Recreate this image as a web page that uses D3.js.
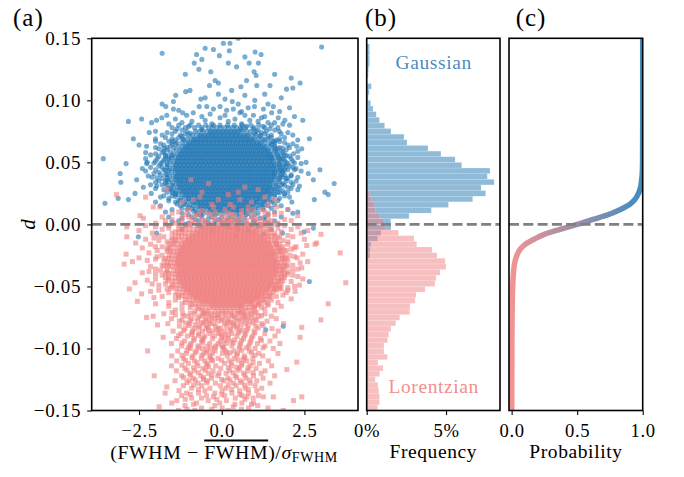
<!DOCTYPE html>
<html><head><meta charset="utf-8">
<script src="https://cdn.jsdelivr.net/npm/d3@7"></script>
<style>body{margin:0;background:#fff}svg{display:block}</style>
</head><body><svg id="chart" width="684" height="477"></svg>
<script>
// ---------- DATA ----------
// scatter rows: [d (x1000), x values (x100) ...]
const gaussRows = [
[150,50],[146,5,25],[143,302],[142,-50],[141,-25],[140,23],[139,101],[138,-180],[137,-76,119],[136,-7],[135,70],[133,-60],
[130,-83,20,83,111],[127,45],[125,-69],[123,-33,98],[121,-110,160],[120,104],[118,210],[116,-20,75],[114,-10,237],
[112,-37,106,146],[111,58],[110,215],[109,196],[108,-96,30],[107,-109],[105,-10,130],[104,-139,70],[102,-50,180],
[101,-63,10],[100,100],[99,-146,32],[97,-180,50,140],[95,-169,-68,-45,-5,99,156],[94,80,205],[93,-146,-25,35,126],
[92,-130,15],[91,60,175],[90,-118,-86,55,151],[89,-35],[88,-166,-106,10,70,96],[87,-60,130,220],[86,-181,-5,120,171],
[85,-242,-140,40],[84,-197,-50,85,191,245],[83,-282,-90,20,110],[82,-212,-120,140,160],[81,-160,-30,60,185],
[80,-130,-95,-70,-48,-25,-5,18,38,62,88,112,150,205],
[78,-150,-110,-82,-60,-40,-28,-15,-3,9,21,33,45,57,72,98,130,170],
[75,-200,-140,-105,-80,-68,-56,-44,-32,-20,-8,4,16,28,40,52,64,76,88,104,135,174],
[74,-219,-165,120,200],
[72,-180,-125,-100,-88,-76,-64,-52,-40,-28,-16,-4,8,20,32,44,56,68,80,92,104,118,150,215],
[69,-267,-200,-150,-118,-104,-92,-80,-68,-56,-44,-32,-20,-8,4,16,28,40,52,64,76,88,100,112,124,140,175,265],
[67,-200,-160,160],
[66,-135,-120,-108,-96,-84,-72,-60,-48,-36,-24,-12,0,12,24,36,48,60,72,84,96,108,120,132,146,190],
[64,-250,-175,200],
[63,-227,-155,-130,-118,-106,-94,-82,-70,-58,-46,-34,-22,-10,2,14,26,38,50,62,74,86,98,110,122,134,146,160,227],
[61,-190,170,242],
[60,-165,-138,-126,-114,-102,-90,-78,-66,-54,-42,-30,-18,-6,6,18,30,42,54,66,78,90,102,114,126,138,150,162,195],
[58,-230,-180,185],
[57,-200,-146,-133,-121,-109,-97,-85,-73,-61,-49,-37,-25,-13,-1,11,23,35,47,59,71,83,95,107,119,131,143,155,168,217],
[55,-190,-160,180,205],
[54,-152,-140,-128,-116,-104,-92,-80,-68,-56,-44,-32,-20,-8,4,16,28,40,52,64,76,88,100,112,124,136,148,160,172,230],
[53,-358,-230],[52,-175,190],
[51,-200,-156,-144,-132,-120,-108,-96,-84,-72,-60,-48,-36,-24,-12,0,12,24,36,48,60,72,84,96,108,120,132,144,156,168,180,215],
[49,-289,-227,-185,200,240],
[48,-165,-150,-138,-126,-114,-102,-90,-78,-66,-54,-42,-30,-18,-6,6,18,30,42,54,66,78,90,102,114,126,138,150,162,174,190],
[46,-215,-180,215],
[45,-240,-158,-146,-134,-122,-110,-98,-86,-74,-62,-50,-38,-26,-14,-2,10,22,34,46,58,70,82,94,106,118,130,142,154,166,178,225],
[44,297,200],
[42,-190,-152,-140,-128,-116,-104,-92,-80,-68,-56,-44,-32,-20,-8,4,16,28,40,52,64,76,88,100,112,124,136,148,160,172,185],
[41,-307,-205,262],
[39,-222,-158,-146,-134,-122,-110,-98,-86,-74,-62,-50,-38,-26,-14,-2,10,22,34,46,58,70,82,94,106,118,130,142,154,166,178,210],
[37,-180,195],
[36,-257,-165,-152,-140,-128,-116,-104,-92,-80,-68,-56,-44,-32,-20,-8,4,16,28,40,52,64,76,88,100,112,124,136,148,160,172,277],
[35,225],[34,-305,-200,210],
[33,-170,-148,-136,-124,-112,-100,-88,-76,-64,-52,-40,-28,-16,-4,8,20,32,44,56,68,80,92,104,116,128,140,152,164,185,340],
[31,-196,235],
[30,-237,-145,-133,-121,-109,-97,-85,-73,-61,-49,-37,-25,-13,-1,11,23,35,47,59,71,83,95,107,119,131,143,155,170,200],
[28,-175,230],
[27,-150,-138,-126,-114,-102,-90,-78,-66,-54,-42,-30,-18,-6,6,18,30,42,54,66,78,90,102,114,126,138,150,162,185],
[26,312],[25,-262,-213,190],
[24,-140,-130,-118,-106,-94,-82,-70,-58,-46,-34,-22,-10,2,14,26,38,50,62,74,86,98,110,122,134,146,160,322],
[22,-185,205],
[21,-313,-160,-124,-112,-100,-88,-76,-64,-52,-40,-28,-16,-4,8,20,32,44,56,68,80,92,104,116,128,140,175],
[20,-282,280],
[18,-200,-140,-112,-100,-88,-76,-64,-52,-40,-28,-16,-4,8,20,32,44,56,68,80,92,104,116,128,150,212],
[17,-353],
[15,-185,-125,-98,-86,-74,-62,-50,-38,-26,-14,-2,10,22,34,46,58,70,82,94,106,118,140,180],
[12,-150,-105,-80,-68,-56,-44,-32,-20,-8,4,16,28,40,52,64,76,88,100,125,200],
[10,-170,160,230],
[9,-120,-75,-55,-40,-25,-10,5,20,35,50,65,80,110,215],
[6,-160,-90,-60,-30,0,30,55,90,130,180],
[3,-130,-70,-20,15,50,100,160],[1,-100,-40,30,75,140],[-2,-60,20,110],[-3,277],[-5,-30,80],[-6,249],
[-7,-197,184],[-8,126],[-9,43],[-10,-252],[-46,265],[-82,186],[-85,133]
];
const gaussInnerRows = [
[74.5,-35,-23,-11,1,13,25,37,49],
[71.5,-66,-54,-42,-30,-18,-6,6,18,30,42,54,66,78],
[68.5,-85,-73,-61,-49,-37,-25,-13,-1,11,23,35,47,59,71,83,95],
[65.5,-100,-88,-76,-64,-52,-40,-28,-16,-4,8,20,32,44,56,68,80,92,104,116],
[62.5,-111,-99,-87,-75,-63,-51,-39,-27,-15,-3,9,21,33,45,57,69,81,93,105,117,129],
[59.5,-120,-108,-96,-84,-72,-60,-48,-36,-24,-12,0,12,24,36,48,60,72,84,96,108,120,132,140],
[56.5,-127,-115,-103,-91,-79,-67,-55,-43,-31,-19,-7,5,17,29,41,53,65,77,89,101,113,125,137,147],
[53.5,-132,-120,-108,-96,-84,-72,-60,-48,-36,-24,-12,0,12,24,36,48,60,72,84,96,108,120,132,144,152],
[50.5,-136,-124,-112,-100,-88,-76,-64,-52,-40,-28,-16,-4,8,20,32,44,56,68,80,92,104,116,128,140,152],
[47.5,-139,-127,-115,-103,-91,-79,-67,-55,-43,-31,-19,-7,5,17,29,41,53,65,77,89,101,113,125,137,149,159],
[44.5,-140,-128,-116,-104,-92,-80,-68,-56,-44,-32,-20,-8,4,16,28,40,52,64,76,88,100,112,124,136,148,160],
[41.5,-134,-122,-110,-98,-86,-74,-62,-50,-38,-26,-14,-2,10,22,34,46,58,70,82,94,106,118,130,142,154,160],
[38.5,-139,-127,-115,-103,-91,-79,-67,-55,-43,-31,-19,-7,5,17,29,41,53,65,77,89,101,113,125,137,149,159],
[35.5,-136,-124,-112,-100,-88,-76,-64,-52,-40,-28,-16,-4,8,20,32,44,56,68,80,92,104,116,128,140,152],
[32.5,-130,-118,-106,-94,-82,-70,-58,-46,-34,-22,-10,2,14,26,38,50,62,74,86,98,110,122,134,146],
[29.5,-127,-115,-103,-91,-79,-67,-55,-43,-31,-19,-7,5,17,29,41,53,65,77,89,101,113,125,137,147],
[26.5,-120,-108,-96,-84,-72,-60,-48,-36,-24,-12,0,12,24,36,48,60,72,84,96,108,120,132,140],
[23.5,-111,-99,-87,-75,-63,-51,-39,-27,-15,-3,9,21,33,45,57,69,81,93,105,117,129],
[20.5,-100,-88,-76,-64,-52,-40,-28,-16,-4,8,20,32,44,56,68,80,92,104,116],
[17.5,-85,-73,-61,-49,-37,-25,-13,-1,11,23,35,47,59,71,83,95,105],
[14.5,-66,-54,-42,-30,-18,-6,6,18,30,42,54,66,78,86],
[11.5,-35,-23,-11,1,13,25,37,49,55]
];
const gaussEdgeRows = [
[76,-120,110,160],[73,-150,-110,130,180],[70,-170,-130,150,190],[68,-140,165,230],[65,-185,-150,160,215],
[62,-200,-165,175,205],[59,-175,180,230],[56,-215,-170,190],[53,-195,-170,185,210],[50,-225,-180,195,255],
[47,-190,185,205],[44,-200,-175,190,220],[43,-230,240],[40,-185,-170,190,210],[38,-210,185,230],[35,-190,-170,195],
[32,-215,-180,180,215],[29,-200,-160,175,210],[26,-165,170,200],[23,-175,-150,160,190],[19,-160,-130,140,170],
[16,-110,130,160],[13,-120,-90,110,150],[8,-100,-75,75,100,140],[5,-120,-40,20,70,115],[4,-80,-10,40,130],
[2,-150,-50,0,60,95],[0,-110,-20,45,120,170],[-1,-70,10,90],[-4,-120,50,150],
[79,-100,75,125],[77,-135,95,145],[76.5,-60,60],[73.5,-95,100],[71,-120,115,140],[68.2,-115,130],[66.8,-150,155,175],
[64.5,-140,150],[61.5,-175,-145,160,185],[58.5,-155,165],[55.5,-170,-150,170,195],[52.5,-160,175],[49.5,-205,-165,175,220],
[46.5,-165,175,195],[43.5,-170,-160,175,185],[40.5,-165,180],[37.5,-195,-165,175,200],[34.5,-160,175],
[31.5,-165,-150,165,190],[28.5,-155,160],[25.5,-150,-140,150,175],[22.5,-140,145],[19.5,-125,130,155],
[16.5,-135,-115,120],[13.5,-100,95,125],[10.5,-85,-60,70,90],[7.5,-65,-20,45]
];
const lorentzRows = [
[36,-93],[33,-40],[30,70],[28,-166,110],[26,50,-60],[24,-318,20],[22,-230,-66,130],[20,-86,-10,55,160],[18,-120,90],
[16,-30,25,140],[14,-207,-187,-25,35,80,166],[12,-100,10,96,121,200],[11,-60,60],[10,-130,-20,80,130],[9,-150,-40,20,140,180],
[8,-110,-70,30,60,160],[7,-247,-80,0,40,100,230],[6,-180,-100,-30,10,90,140],[5,-237,-120,-20,60,120],[4,-150,-60,20,45,100,190],
[3,-170,-90,-50,5,30,75,150,210],[2,-120,-80,-10,25,110,140],[1,-200,-140,-60,-30,15,50,95,130,170],[0,-170,-95,-45,0,40,80,120,155],
[-1,-230,-160,-110,-74,-62,-50,-38,-26,-14,-2,10,22,34,46,58,70,82,94,106,140,190],
[-2,-287,-200,230],
[-4,-180,-130,-98,-86,-74,-62,-50,-38,-26,-14,-2,10,22,34,46,58,70,82,94,106,118,150,210],
[-5,-250,260],
[-7,-210,-150,-112,-100,-88,-76,-64,-52,-40,-28,-16,-4,8,20,32,44,56,68,80,92,104,116,128,160,240],
[-8,300],
[-10,-287,-175,-122,-110,-98,-86,-74,-62,-50,-38,-26,-14,-2,10,22,34,46,58,70,82,94,106,118,130,142,175,215],
[-12,-230,250],
[-13,-190,-140,-126,-114,-102,-90,-78,-66,-54,-42,-30,-18,-6,6,18,30,42,54,66,78,90,102,114,126,138,150,185],
[-15,287,-260],
[-16,-215,-150,-134,-122,-110,-98,-86,-74,-62,-50,-38,-26,-14,-2,10,22,34,46,58,70,82,94,106,118,130,142,154,166,200,282],
[-17,257],
[-19,-240,-165,-140,-128,-116,-104,-92,-80,-68,-56,-44,-32,-20,-8,4,16,28,40,52,64,76,88,100,112,124,136,148,160,172,220],
[-21,-195,195],
[-22,-146,-134,-122,-110,-98,-86,-74,-62,-50,-38,-26,-14,-2,10,22,34,46,58,70,82,94,106,118,130,142,154,166,178],
[-23,358,-220],[-24,-289,245],
[-25,-180,-150,-138,-126,-114,-102,-90,-78,-66,-54,-42,-30,-18,-6,6,18,30,42,54,66,78,90,102,114,126,138,150,162,174,205],
[-27,-250,228],
[-28,-200,-152,-140,-128,-116,-104,-92,-80,-68,-56,-44,-32,-20,-8,4,16,28,40,52,64,76,88,100,112,124,136,148,160,172,184],
[-30,-270,260],
[-31,-155,-143,-131,-119,-107,-95,-83,-71,-59,-47,-35,-23,-11,1,13,25,37,49,61,73,85,97,109,121,133,145,157,169,181,237],
[-32,-295],
[-34,-215,-150,-138,-126,-114,-102,-90,-78,-66,-54,-42,-30,-18,-6,6,18,30,42,54,66,78,90,102,114,126,138,150,162,174,190],
[-35,242],
[-37,-185,-146,-134,-122,-110,-98,-86,-74,-62,-50,-38,-26,-14,-2,10,22,34,46,58,70,82,94,106,118,130,142,154,166,178,215],
[-39,-240],
[-40,-200,-150,-138,-126,-114,-102,-90,-78,-66,-54,-42,-30,-18,-6,6,18,30,42,54,66,78,90,102,114,126,138,150,162,174,200],
[-42,230],
[-43,-170,-142,-130,-118,-106,-94,-82,-70,-58,-46,-34,-22,-10,2,14,26,38,50,62,74,86,98,110,122,134,146,158,170,190],
[-45,-225],
[-46,-140,-128,-116,-104,-92,-80,-68,-56,-44,-32,-20,-8,4,16,28,40,52,64,76,88,100,112,124,136,148,160,172,210],
[-47,-262,375],
[-49,-190,-136,-124,-112,-100,-88,-76,-64,-52,-40,-28,-16,-4,8,20,32,44,56,68,80,92,104,116,128,140,152,164,235],
[-51,200],
[-52,-279,-165,-128,-116,-104,-92,-80,-68,-56,-44,-32,-20,-8,4,16,28,40,52,64,76,88,100,112,124,136,148,160,180],
[-54,-215,222],
[-55,-160,-120,-108,-96,-84,-72,-60,-48,-36,-24,-12,0,12,24,36,48,60,72,84,96,108,120,132,144,195],
[-56,-242],
[-58,-180,-110,-98,-86,-74,-62,-50,-38,-26,-14,-2,10,22,34,46,58,70,82,94,106,118,130,165],
[-60,210],
[-61,-140,-97,-85,-73,-61,-49,-37,-25,-13,-1,11,23,35,47,59,71,83,95,107,119,150],
[-62,-255],
[-64,-200,-120,-80,-68,-56,-44,-32,-20,-8,4,16,28,40,52,64,76,88,100,112,140,322],
[-66,-160,180],
[-67,-95,-60,-48,-36,-24,-12,0,12,24,36,48,60,72,84,120],
[-69,-140,160],
[-70,-80,-40,-22,-10,2,14,26,38,50,90],
[-72,-175,-118,-83,-52,-31,-4,27,49,88,131],[-73,-140,-20,70],[-74,-207,-101,-66,-38,12,38,64,112,150],
[-75,-227,-10,90],[-76,-152,-90,-47,-22,3,22,53,101,165],[-77,-120,75,300],[-78,-128,-73,-38,-12,17,46,86,137],
[-79,-60,30],[-80,-163,-97,-55,-26,8,36,72,121,187],[-81,-194,-80,58],[-82,-128,-66,-19,14,47,103],[-83,-40,242],
[-84,-111,-84,-47,-3,28,79,152],[-85,-15,60],[-86,-147,-88,-58,-27,9,53,98,171],[-88,-123,-69,-36,-9,31,71,130],
[-89,-90,10],[-90,-104,-51,-22,1,46,94,161],[-91,-177,237],[-92,-137,-83,-28,19,66,117],[-93,-60,40],
[-94,-112,-57,-4,28,88,146],[-96,-152,-93,-36,-11,14,57,108,176],[-98,-121,-72,-44,-18,31,82,131],[-99,-100,5],
[-100,-95,-58,-33,4,53,101,156],[-102,-224,-133,-77,-20,37,84],[-103,-45,15],[-104,-107,-54,-28,2,48,112,170],
[-106,-151,-87,-36,17,68,124],[-108,-116,-62,-11,38,94],[-109,-30,65],[-110,-136,-82,-51,-28,23,76,141],[-111,227],
[-112,-101,-44,8,61,114],[-114,-152,-72,-18,29,86,151],[-115,-40,45],[-116,-111,-57,-3,54,104],[-117,197],
[-118,-137,-82,-26,24,79,131],[-120,-96,-41,-8,13,66,119],[-122,-204,-121,-63,-12,41,96,160],[-124,-86,-31,19,73,125],
[-125,-55,0],[-126,-141,-99,-44,6,56,106],[-128,-71,-19,36,86,146],[-130,-116,-60,-4,44,101],[-131,-166],
[-132,-91,-36,13,71,121],[-134,-129,-51,1,54,106],[-136,-171,-106,-70,-21,31,81],[-138,-121,-46,9,61,111],
[-139,-25,76,126,156,242],[-140,-91,-61,41,95],[-142,-136,-41,14,217],[-144,-151,-76,-6,61,96],
[-146,-111,-21,109],[-147,-189,35],[-148,-61,1,81,140],[-150,-131,-81,19,186]
];
const lorentzInnerRows = [
[-2.5,-51,-39,-27,-15,-3,9,21,33,45,57,69,81],
[-5.5,-73,-61,-49,-37,-25,-13,-1,11,23,35,47,59,71,83,95,103],
[-8.5,-89,-77,-65,-53,-41,-29,-17,-5,7,19,31,43,55,67,79,91,103,115],
[-11.5,-101,-89,-77,-65,-53,-41,-29,-17,-5,7,19,31,43,55,67,79,91,103,115,127],
[-14.5,-111,-99,-87,-75,-63,-51,-39,-27,-15,-3,9,21,33,45,57,69,81,93,105,117,129,141],
[-17.5,-119,-107,-95,-83,-71,-59,-47,-35,-23,-11,1,13,25,37,49,61,73,85,97,109,121,133,145],
[-20.5,-124,-112,-100,-88,-76,-64,-52,-40,-28,-16,-4,8,20,32,44,56,68,80,92,104,116,128,140,152],
[-23.5,-129,-117,-105,-93,-81,-69,-57,-45,-33,-21,-9,3,15,27,39,51,63,75,87,99,111,123,135,147,159],
[-26.5,-132,-120,-108,-96,-84,-72,-60,-48,-36,-24,-12,0,12,24,36,48,60,72,84,96,108,120,132,144,156],
[-29.5,-134,-122,-110,-98,-86,-74,-62,-50,-38,-26,-14,-2,10,22,34,46,58,70,82,94,106,118,130,142,154,164],
[-32.5,-135,-123,-111,-99,-87,-75,-63,-51,-39,-27,-15,-3,9,21,33,45,57,69,81,93,105,117,129,141,153,165],
[-35.5,-129,-117,-105,-93,-81,-69,-57,-45,-33,-21,-9,3,15,27,39,51,63,75,87,99,111,123,135,147,159,165],
[-38.5,-133,-121,-109,-97,-85,-73,-61,-49,-37,-25,-13,-1,11,23,35,47,59,71,83,95,107,119,131,143,155,163],
[-41.5,-130,-118,-106,-94,-82,-70,-58,-46,-34,-22,-10,2,14,26,38,50,62,74,86,98,110,122,134,146,158],
[-44.5,-126,-114,-102,-90,-78,-66,-54,-42,-30,-18,-6,6,18,30,42,54,66,78,90,102,114,126,138,150],
[-47.5,-121,-109,-97,-85,-73,-61,-49,-37,-25,-13,-1,11,23,35,47,59,71,83,95,107,119,131,143,151],
[-50.5,-114,-102,-90,-78,-66,-54,-42,-30,-18,-6,6,18,30,42,54,66,78,90,102,114,126,138,144],
[-53.5,-105,-93,-81,-69,-57,-45,-33,-21,-9,3,15,27,39,51,63,75,87,99,111,123,135],
[-56.5,-93,-81,-69,-57,-45,-33,-21,-9,3,15,27,39,51,63,75,87,99,111,123],
[-59.5,-79,-67,-55,-43,-31,-19,-7,5,17,29,41,53,65,77,89,101,109],
[-62.5,-60,-48,-36,-24,-12,0,12,24,36,48,60,72,84,90],
[-65.5,-29,-17,-5,7,19,31,43,55,59]
];
const lorentzEdgeRows = [
[-3,-160,170],[-6,-140,135,180],[-9,-190,160,200],[-11,-205,-150,170],[-14,-165,165,200],[-18,-200,-180,185,225],
[-20,-160,180,210],[-26,-195,190,220],[-29,-225,-175,200],[-33,-180,-165,195,215],[-36,-200,185,230],[-38,-220,-165,200],
[-41,-180,190,215],[-44,-200,-160,180,245],[-48,-210,-170,180],[-50,-150,175,220],[-53,-190,165,200],[-57,-140,150,185],
[-59,-205,-130,145],[-63,-160,-110,130,170],[-65,-90,110,140],[-68,-120,-70,100,130],[-71,-150,-55,65,105],
[-0.5,-130,-95,115,125],[-3.5,-120,-110,125,140],[-6.5,-130,-120,145],[-9.5,-140,-130,140,155],[-12.5,-150,-140,160],
[-15.5,-160,-145,165,175],[-18.5,-155,170],[-21.5,-165,-155,175,190],[-24.5,-160,185],[-27.5,-170,-160,185,195],
[-30.5,-165,190],[-33.5,-175,-160,180,200],[-36.5,-165,185],[-39.5,-170,-160,180,190],[-42.5,-160,180],
[-45.5,-165,-150,170,185],[-48.5,-150,165],[-51.5,-155,-140,160,175],[-54.5,-135,155],[-57.5,-130,-120,140],
[-60.5,-110,125,135],[-63.5,-95,115],[-66.5,-75,95,100],[-69.5,-60,60,75]
];
const lorentzTailRows = [
[-71.5,-95,-45,10,55,100],[-73.5,-115,-58,-12,30,80,120],[-75.5,-72,-30,40,70],[-77.5,-95,-50,0,60,105],
[-79.5,-110,-35,20,95],[-81.5,-100,-45,35,80,125],[-83.5,-70,-10,45,110],[-85.5,-115,-40,25,75],[-87.5,-90,-5,50,100],
[-89.5,-130,-70,20,70],[-91.5,-55,0,90],[-93.5,-85,10,60,120],[-95.5,-120,-60,35,85],[-97.5,-95,0,55],
[-99.5,-70,-20,75,125],[-101.5,-105,-45,10,60],[-103.5,-80,25,90],[-105.5,-120,-60,45,100],[-107.5,-90,-35,70],
[-109.5,-110,0,50],[-111.5,-75,30,95],[-113.5,-120,-45,60],[-115.5,-85,20,80],[-117.5,-105,-50,50],[-119.5,-70,35,95],
[-121.5,-95,-30,70],[-123.5,-115,-55,45],[-125.5,-80,25,85],[-127.5,-105,-45,60],[-129.5,-85,20,70],[-133,-70,30,80],
[-137,-95,0,55],[-141,-110,-15,70],[-145,-85,40,90],[-149,-105,-30,60]
];

// histogram (panel b): bin width 0.15/33, bins k = -33 .. 32 (lower edge k*width); frequencies in %
const binWidth = 0.15 / 33;
const binFirstK = -33;
const gaussFreq = [
0,0,0,0,0,0,0,0,0,0, 0,0,0,0,0,0,0,0,0,0, 0,0,0,0,0,0,
0.05,0.2,0.21,0.27,0.69,0.9,1.53,
1.51,2.67,4.07,5.15,6.68,7.5,7.21,8.03,7.6,7.77,5.99,5.57,4.68,3.86,2.54,2.35,1.53,1.13,0.8,0.6,0.4,0.25,0.1,0.16,0.29,0.04,0.1,0.12,0.18,0.18,0.18,0.18,0
];
const lorentzFreq = [
0.69,0.8,0.8,0.76,0.71,0.54,0.82,1.03,0.71,1.3,1.09,1.09,1.32,1.39,1.53,1.83,2.08,2.71,2.73,3.05,3.11,3.68,4.3,4.37,4.62,5.0,
4.94,4.43,4.12,3.15,2.98,2.0,1.2,
1.09,0.82,0.55,0.5,0.31,0.16,0.08,0.04,0,0, 0,0,0,0,0,0,0,0,0,0, 0,0,0,0,0,0,0,0,0,0,0,0,0
];

// panel c: probability of Gaussian vs d
const probD = [0.15,0.08,0.05,0.04,0.035,0.03,0.025,0.02,0.016,0.012,0.008,0.004,0,-0.004,-0.008,-0.012,-0.016,-0.02,-0.025,-0.03,-0.04,-0.05,-0.07,-0.1,-0.15];
const probP = [1.0,1.0,0.999,0.996,0.991,0.984,0.968,0.94,0.9,0.83,0.74,0.62,0.5,0.37,0.25,0.17,0.105,0.065,0.04,0.025,0.013,0.008,0.004,0.002,0.001];

const yTicks = [-0.15,-0.10,-0.05,0,0.05,0.10,0.15];
const xTicksA = [-2.5,0,2.5];
const xTicksB = [0,0.05];
const xTicksC = [0,0.5,1];

(function () {
// ---------- LAYOUT ----------
const FONT = '"Liberation Serif"';
const BLUE = '#1f77b4', PINK = '#f08080';
const yTop = 38.3, yBot = 410.5;
const svg = d3.select('#chart');
const defs = svg.append('defs');

const y = d3.scaleLinear().domain([-0.15, 0.15]).range([yBot, yTop]);
const xA = d3.scaleLinear().domain([-3.93, 4.12]).range([91.7, 358]);
const xB = d3.scaleLinear().domain([0, 0.084]).range([366.7, 500]);
const xC = d3.scaleLinear().domain([-0.02, 1.0]).range([509, 642.7]);

function rowsToPoints(...sets) {
  const out = [];
  sets.forEach(rows => rows.forEach(r => { for (let i = 1; i < r.length; i++) out.push({ x: r[i] / 100, d: r[0] / 1000 }); }));
  return out;
}
const gaussPts = rowsToPoints(gaussRows, gaussInnerRows, gaussEdgeRows);
const lorentzPts = rowsToPoints(lorentzRows, lorentzInnerRows, lorentzEdgeRows, lorentzTailRows);

function clip(id, x0, x1) {
  defs.append('clipPath').attr('id', id).append('rect')
    .attr('x', x0).attr('y', yTop).attr('width', x1 - x0).attr('height', yBot - yTop);
}
clip('clipA', 91.7, 358); clip('clipB', 366.7, 500); clip('clipC', 509, 642.7);

// ---------- PANEL A ----------
const gA = svg.append('g').attr('clip-path', 'url(#clipA)');
gA.selectAll('circle.g').data(gaussPts).join('circle').attr('class', 'g')
  .attr('cx', p => xA(p.x)).attr('cy', p => y(p.d)).attr('r', 2.55)
  .attr('fill', BLUE).attr('fill-opacity', 0.6);
const sq = 5;
gA.selectAll('rect.l').data(lorentzPts).join('rect').attr('class', 'l')
  .attr('x', p => xA(p.x) - sq / 2).attr('y', p => y(p.d) - sq / 2).attr('width', sq).attr('height', sq)
  .attr('fill', PINK).attr('fill-opacity', 0.6);

// ---------- PANEL B ----------
const gB = svg.append('g').attr('clip-path', 'url(#clipB)');
function bars(freq, color) {
  const data = freq.map((f, i) => ({ lo: (binFirstK + i) * binWidth, f: f / 100 })).filter(b => b.f > 0);
  gB.append('g').selectAll('rect').data(data).join('rect')
    .attr('x', xB(0)).attr('y', b => y(b.lo + binWidth)).attr('width', b => xB(b.f) - xB(0))
    .attr('height', b => y(b.lo) - y(b.lo + binWidth))
    .attr('fill', color).attr('fill-opacity', 0.5)
    .attr('stroke', '#fff').attr('stroke-opacity', 0.35).attr('stroke-width', 0.5);
}
bars(gaussFreq, BLUE);
bars(lorentzFreq, PINK);

// ---------- PANEL C ----------
const grad = defs.append('linearGradient').attr('id', 'probGrad').attr('gradientUnits', 'userSpaceOnUse')
  .attr('x1', xC(0)).attr('x2', xC(1)).attr('y1', 0).attr('y2', 0);
grad.append('stop').attr('offset', 0).attr('stop-color', PINK);
grad.append('stop').attr('offset', 1).attr('stop-color', BLUE);
const gC = svg.append('g').attr('clip-path', 'url(#clipC)');
const probPts = probD.map((d, i) => ({ d, p: probP[i] }));
gC.append('path').datum(probPts)
  .attr('d', d3.line().x(q => xC(q.p)).y(q => y(q.d)).curve(d3.curveMonotoneY))
  .attr('fill', 'none').attr('stroke', 'url(#probGrad)').attr('stroke-width', 5.5).attr('stroke-opacity', 0.85);

// ---------- DASHED ZERO LINES ----------
[[91.7, 358], [366.7, 500], [509, 642.7]].forEach(([x0, x1]) => {
  svg.append('line').attr('x1', x0).attr('x2', x1).attr('y1', y(0)).attr('y2', y(0))
    .attr('stroke', '#808080').attr('stroke-width', 2.6).attr('stroke-dasharray', '10,4.3');
});

// ---------- SPINES & AXES ----------
[[91.7, 358], [366.7, 500], [509, 642.7]].forEach(([x0, x1]) => {
  svg.append('rect').attr('x', x0).attr('y', yTop).attr('width', x1 - x0).attr('height', yBot - yTop)
    .attr('fill', 'none').attr('stroke', '#000').attr('stroke-width', 1.6);
});
function styleAxis(g, size) {
  g.select('.domain').remove();
  g.attr('font-family', FONT).attr('font-size', size || 19);
  g.selectAll('.tick line').attr('stroke', '#000').attr('stroke-width', 1.1);
  g.selectAll('.tick text').attr('fill', '#000').attr('letter-spacing', 0.7);
}
svg.append('g').attr('transform', `translate(0,${yBot})`)
  .call(d3.axisBottom(xA).tickValues(xTicksA).tickFormat(d3.format('.1f')).tickSize(4.5).tickPadding(8.8)).call(styleAxis, 18.6);
svg.append('g').attr('transform', `translate(0,${yBot})`)
  .call(d3.axisBottom(xB).tickValues(xTicksB).tickFormat(d3.format('.0%')).tickSize(4.5).tickPadding(8.8)).call(styleAxis, 18.6);
svg.append('g').attr('transform', `translate(0,${yBot})`)
  .call(d3.axisBottom(xC).tickValues(xTicksC).tickFormat(d3.format('.1f')).tickSize(4.5).tickPadding(8.8)).call(styleAxis, 18.6);
svg.append('g').attr('transform', `translate(91.7,0)`)
  .call(d3.axisLeft(y).tickValues(yTicks).tickFormat(d3.format('.2f')).tickSize(4.5).tickPadding(6)).call(styleAxis, 19);

// ---------- TEXT ----------
function txt(x, yy, s, opts = {}) {
  return svg.append('text').attr('x', x).attr('y', yy).attr('font-family', FONT)
    .attr('font-size', opts.size || 19.5).attr('text-anchor', opts.anchor || 'middle')
    .attr('fill', opts.fill || '#000').attr('letter-spacing', opts.ls == null ? 0.6 : opts.ls).text(s);
}
txt(13, 25.7, '(a)', { size: 25, anchor: 'start', ls: 1 });
txt(365, 25.7, '(b)', { size: 25, anchor: 'start', ls: 1 });
txt(515.7, 25.7, '(c)', { size: 25, anchor: 'start', ls: 1 });

const xl = svg.append('text').attr('x', 224).attr('y', 458.5).attr('font-family', FONT)
  .attr('font-size', 19.8).attr('text-anchor', 'middle').attr('letter-spacing', 0.6);
xl.append('tspan').text('(FWHM \u2212 ');
xl.append('tspan').attr('text-decoration', 'overline').style('text-decoration', 'overline').text('FWHM');
xl.append('tspan').text(')/');
xl.append('tspan').attr('font-style', 'italic').text('\u03c3');
xl.append('tspan').attr('font-size', 14).attr('dy', 3.5).text('FWHM');

txt(433.3, 458, 'Frequency');
txt(575.9, 458, 'Probability');
svg.append('text').attr('transform', 'translate(35,224.4) rotate(-90)').attr('font-family', FONT)
  .attr('font-size', 21).attr('font-style', 'italic').attr('text-anchor', 'middle').text('d');

txt(433.7, 68.7, 'Gaussian', { fill: BLUE }).attr('fill-opacity', 0.85);
txt(433.7, 393, 'Lorentzian', { fill: PINK }).attr('fill-opacity', 0.9);
})();
</script></body></html>
